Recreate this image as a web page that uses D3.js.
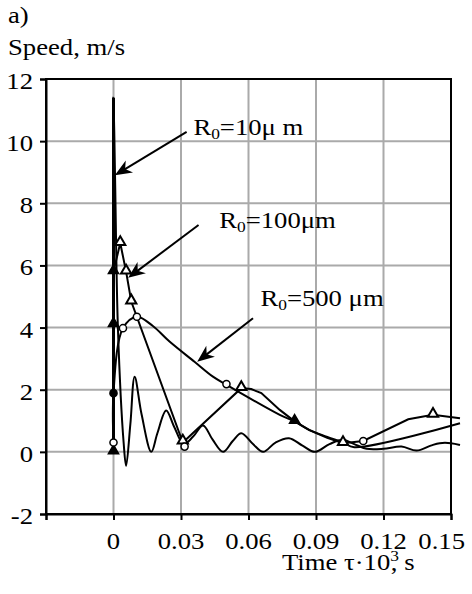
<!DOCTYPE html>
<html>
<head>
<meta charset="utf-8">
<script src="https://cdn.jsdelivr.net/npm/d3@7"></script>
<style>
  body { margin: 0; background: #fff; }
  svg text { font-family: 'Liberation Serif', 'Times New Roman', Times, 'DejaVu Serif', serif; fill: #000; }
</style>
</head>
<body>
<div id="chart"></div>
<script>
// tick labels
var xTicks = [0, 0.03, 0.06, 0.09, 0.12, 0.15];
var yTicks = [-2, 0, 2, 4, 6, 8, 10, 12];

// R0=10um : spike then small oscillation
var t10 = [0, 0, 0.0007, 0.002, 0.0045, 0.0056, 0.0075, 0.0094, 0.0125, 0.0168, 0.0195, 0.0234, 0.027, 0.0312, 0.0355, 0.0398, 0.044, 0.0487, 0.053, 0.0568, 0.062, 0.0665, 0.072, 0.078, 0.084, 0.0895, 0.096, 0.102, 0.107, 0.1125, 0.12, 0.128, 0.1347, 0.141, 0.145, 0.15, 0.154];
var v10 = [0, 11.4, 8.8, 3.9, 0.3, -0.45, 0.9, 2.42, 1.2, 0, 0.6, 1.33, 0.8, 0.25, 0.5, 0.85, 0.4, 0, 0.35, 0.6, 0.25, 0, 0.3, 0.44, 0.2, 0, 0.25, 0.39, 0.25, 0.1, 0.1, 0.17, 0.04, 0.2, 0.28, 0.28, 0.22];

// R0=100um : triangles
var t100 = [0, 0, 0, 0.003, 0.0056, 0.0079, 0.0308, 0.0568, 0.0612, 0.0657, 0.0739, 0.0805, 0.087, 0.095, 0.102, 0.111, 0.131, 0.142, 0.154];
var v100 = [0, 4.1, 5.8, 6.72, 5.8, 4.84, 0.3, 2.05, 2.02, 1.89, 1.35, 0.98, 0.7, 0.45, 0.28, 0.35, 1.05, 1.19, 1.08];

// R0=500um : circles
var t500 = [0, 0, 0.0042, 0.0104, 0.0175, 0.0249, 0.036, 0.0442, 0.0502, 0.0739, 0.0805, 0.087, 0.0947, 0.102, 0.107, 0.154];
var v500 = [0.3, 1.89, 3.98, 4.35, 4.05, 3.55, 2.9, 2.42, 2.16, 1.19, 0.98, 0.71, 0.49, 0.3, 0.15, 0.92];

// markers
var triFilled = [[0, 0], [0, 4.1], [0, 5.8], [0.0805, 0.98]];
var triOpen = [[0.003, 6.72], [0.0056, 5.8], [0.0079, 4.84], [0.0308, 0.33], [0.0568, 2.05], [0.102, 0.28], [0.142, 1.19]];
var circFilled = [[0, 1.89]];
var circOpen = [[0, 0.3], [0.0042, 3.98], [0.0104, 4.35], [0.0316, 0.17], [0.0502, 2.18], [0.111, 0.35]];

// annotations: label text, text pos (t,v), arrow from (t,v) to (t,v)
var labels = [
  {txt: '=10\u03bc m', at: [0.0355, 10.2], from: [0.0325, 10.3], to: [0.0006, 8.9]},
  {txt: '=100\u03bcm', at: [0.047, 7.2], from: [0.0378, 7.3], to: [0.0065, 5.6]},
  {txt: '=500 \u03bcm', at: [0.0653, 4.7], from: [0.062, 4.3], to: [0.0372, 2.9]}
];

var FONT = "'Liberation Serif', 'Times New Roman', Times, 'DejaVu Serif', serif";
var SX = 1.16; // glyphs in the picture are a bit wider than the font
var W = 472, H = 594;
var svg = d3.select('#chart').append('svg')
  .attr('width', W)
  .attr('height', H)
  .attr('font-family', FONT);

// text placed at (px,py), stretched horizontally around its anchor
function addText(px, py, anchor) {
  return svg.append('g')
    .attr('transform', 'translate(' + px + ',' + py + ') scale(' + SX + ',1)')
    .append('text')
    .attr('text-anchor', anchor || 'start')
    .attr('font-family', FONT)
    .style('font-size', '23px');
}

var x = d3.scaleLinear().domain([-0.03, 0.15]).range([46, 451]);
var y = d3.scaleLinear().domain([-2, 12]).range([514, 79]);

// grid
svg.append('g').selectAll('line')
  .data(xTicks.slice(0, -1))
  .enter().append('line')
  .attr('x1', d => x(d)).attr('x2', d => x(d))
  .attr('y1', y(12)).attr('y2', y(-2))
  .attr('stroke', '#aaa').attr('stroke-width', 2);

svg.append('g').selectAll('line')
  .data(yTicks.slice(1, -1))
  .enter().append('line')
  .attr('x1', x(-0.03)).attr('x2', x(0.15))
  .attr('y1', d => y(d)).attr('y2', d => y(d))
  .attr('stroke', '#aaa').attr('stroke-width', 2);

// axes with outward ticks
svg.append('g')
  .attr('transform', 'translate(0,' + y(-2) + ')')
  .call(d3.axisBottom(x).tickValues([-0.03].concat(xTicks)).tickSize(6).tickFormat(''))
  .call(g => g.select('.domain').attr('stroke-width', 2))
  .call(g => g.selectAll('.tick line').attr('stroke-width', 2));

svg.append('g')
  .attr('transform', 'translate(' + x(-0.03) + ',0)')
  .call(d3.axisLeft(y).tickValues(yTicks).tickSize(6).tickFormat(''))
  .call(g => g.select('.domain').attr('stroke-width', 2))
  .call(g => g.selectAll('.tick line').attr('stroke-width', 2));

svg.append('rect')
  .attr('x', x(-0.03)).attr('y', y(12))
  .attr('width', x(0.15) - x(-0.03)).attr('height', y(-2) - y(12))
  .attr('fill', 'none').attr('stroke', '#000').attr('stroke-width', 2);

// tick labels
yTicks.forEach(function (d) {
  addText(33, y(d) + 10, 'end').text(d);
});
xTicks.forEach(function (d) {
  var last = d === 0.15;
  addText(last ? 465 : x(d), 549, last ? 'end' : 'middle')
    .text(d === 0 ? '0' : d3.format('.2f')(d));
});

// titles
addText(8, 23).text('a)');
addText(8, 55).text('Speed, m/s');

var xt = addText(282, 570);
xt.append('tspan').text('Time \u03c4\u00b710');
xt.append('tspan').attr('dy', -9).style('font-size', '15px').text('3');
xt.append('tspan').attr('dy', 9).attr('dx', -7).text(', s');

// curves
var line = d3.line().x(d => x(d[0])).y(d => y(d[1]));
var smooth = d3.line().x(d => x(d[0])).y(d => y(d[1])).curve(d3.curveCatmullRom.alpha(0.5));

svg.append('path').datum(d3.zip(t10, v10))
  .attr('d', smooth).attr('fill', 'none').attr('stroke', '#000').attr('stroke-width', 2);
svg.append('path').datum(d3.zip(t100, v100))
  .attr('d', line).attr('fill', 'none').attr('stroke', '#000').attr('stroke-width', 2);
svg.append('path').datum(d3.zip(t500, v500))
  .attr('d', smooth).attr('fill', 'none').attr('stroke', '#000').attr('stroke-width', 2);

// spike drawn heavier
svg.append('line')
  .attr('x1', x(0)).attr('x2', x(0)).attr('y1', y(0)).attr('y2', y(11.4))
  .attr('stroke', '#000').attr('stroke-width', 3);

// markers
var tri = d3.symbol().type(d3.symbolTriangle).size(45);
var circ = d3.symbol().type(d3.symbolCircle).size(40);

svg.append('g').selectAll('path')
  .data(triFilled).enter().append('path')
  .attr('d', tri).attr('transform', d => 'translate(' + x(d[0]) + ',' + (y(d[1]) - 1) + ')')
  .attr('fill', '#000').attr('stroke', '#000').attr('stroke-width', 1.5);
svg.append('g').selectAll('path')
  .data(triOpen).enter().append('path')
  .attr('d', tri).attr('transform', d => 'translate(' + x(d[0]) + ',' + (y(d[1]) - 1) + ')')
  .attr('fill', '#fff').attr('stroke', '#000').attr('stroke-width', 2);
svg.append('g').selectAll('path')
  .data(circFilled).enter().append('path')
  .attr('d', circ).attr('transform', d => 'translate(' + x(d[0]) + ',' + y(d[1]) + ')')
  .attr('fill', '#000').attr('stroke', '#000').attr('stroke-width', 1.5);
svg.append('g').selectAll('path')
  .data(circOpen).enter().append('path')
  .attr('d', circ).attr('transform', d => 'translate(' + x(d[0]) + ',' + y(d[1]) + ')')
  .attr('fill', '#fff').attr('stroke', '#000').attr('stroke-width', 1.5);

// labels with arrows
labels.forEach(function (l) {
  var t = addText(x(l.at[0]), y(l.at[1]));
  t.append('tspan').text('R');
  t.append('tspan').attr('dy', 4).style('font-size', '15px').text('0');
  t.append('tspan').attr('dy', -4).text(l.txt);

  var x1 = x(l.from[0]), y1 = y(l.from[1]), x2 = x(l.to[0]), y2 = y(l.to[1]);
  var ang = Math.atan2(y2 - y1, x2 - x1) * 180 / Math.PI;
  var len = Math.hypot(x2 - x1, y2 - y1);
  svg.append('line')
    .attr('x1', x1).attr('y1', y1)
    .attr('x2', x1 + (x2 - x1) * (len - 10) / len).attr('y2', y1 + (y2 - y1) * (len - 10) / len)
    .attr('stroke', '#000').attr('stroke-width', 2);
  svg.append('path')
    .attr('d', 'M0,0 L-17,-7 L-12,0 L-17,7 Z')
    .attr('transform', 'translate(' + x2 + ',' + y2 + ') rotate(' + ang + ')')
    .attr('fill', '#000');
});
</script>
</body>
</html>
